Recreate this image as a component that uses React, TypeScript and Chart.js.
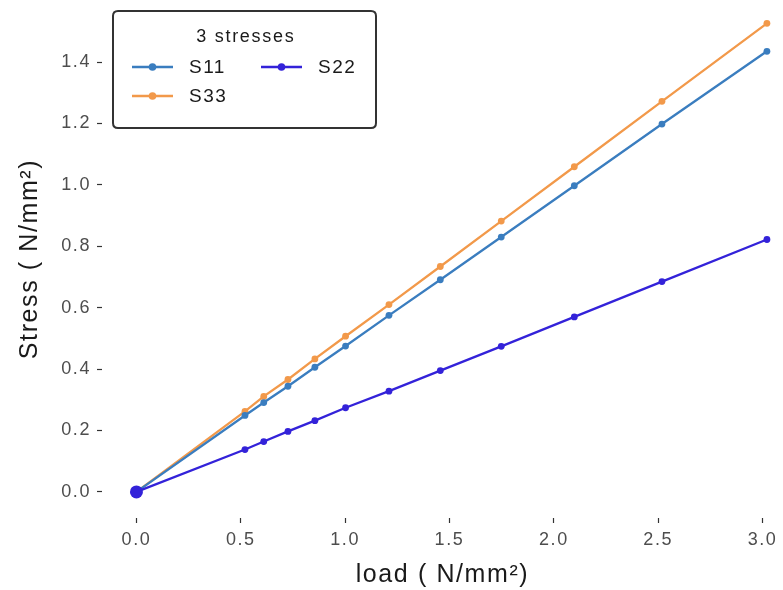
import React, { useEffect, useRef } from "react";
import { Chart, registerables } from "chart.js";

Chart.register(...registerables);

const loads = [0, 0.52, 0.61, 0.726, 0.855, 1.002, 1.21, 1.456, 1.748, 2.098, 2.518, 3.021];
const s11 = [0, 0.249, 0.291, 0.344, 0.406, 0.475, 0.575, 0.691, 0.83, 0.997, 1.198, 1.435];
const s22 = [0, 0.138, 0.164, 0.197, 0.232, 0.274, 0.328, 0.395, 0.474, 0.57, 0.685, 0.822];
const s33 = [0, 0.262, 0.311, 0.366, 0.433, 0.507, 0.61, 0.734, 0.882, 1.059, 1.272, 1.526];

const xTicks = [0, 0.5, 1.0, 1.5, 2.0, 2.5, 3.0];
const yTicks = [0, 0.2, 0.4, 0.6, 0.8, 1.0, 1.2, 1.4];

const seriesNames = ["S11", "S22", "S33"];
const seriesColors = ["#3A7DBF", "#3322D9", "#F2994A"];
const legendTitle = "3 stresses";

const FONT = "'Liberation Sans', Arial, sans-serif";

const toPoints = (ys: number[]) => loads.map((x, i) => ({ x, y: ys[i] }));

const spacingPlugin = {
  id: "spacing",
  beforeDraw(chart: any) {
    chart.ctx.letterSpacing = "1.6px";
  },
};

const legendPlugin = {
  id: "customLegend",
  afterDraw(chart: any) {
    const ctx = chart.ctx;
    ctx.save();
    const bx = 113, by = 11, bw = 263, bh = 117, r = 5;
    ctx.beginPath();
    ctx.moveTo(bx + r, by);
    ctx.lineTo(bx + bw - r, by);
    ctx.quadraticCurveTo(bx + bw, by, bx + bw, by + r);
    ctx.lineTo(bx + bw, by + bh - r);
    ctx.quadraticCurveTo(bx + bw, by + bh, bx + bw - r, by + bh);
    ctx.lineTo(bx + r, by + bh);
    ctx.quadraticCurveTo(bx, by + bh, bx, by + bh - r);
    ctx.lineTo(bx, by + r);
    ctx.quadraticCurveTo(bx, by, bx + r, by);
    ctx.closePath();
    ctx.fillStyle = "#ffffff";
    ctx.fill();
    ctx.lineWidth = 2;
    ctx.strokeStyle = "#333333";
    ctx.stroke();

    ctx.fillStyle = "#1a1a1a";
    ctx.letterSpacing = "1.7px";
    ctx.font = `18px ${FONT}`;
    ctx.textAlign = "left";
    ctx.textBaseline = "middle";
    const tw = ctx.measureText(legendTitle).width;
    ctx.fillText(legendTitle, 245 - (tw - 1.7) / 2, 37);

    const slots: Record<string, [number, number]> = {
      S11: [132, 67],
      S33: [132, 96],
      S22: [261, 67],
    };
    chart.data.datasets.forEach((ds: any) => {
      const slot = slots[ds.label];
      if (!slot) return;
      const [x0, y0] = slot;
      ctx.strokeStyle = ds.borderColor;
      ctx.lineWidth = 2.5;
      ctx.beginPath();
      ctx.moveTo(x0, y0);
      ctx.lineTo(x0 + 41, y0);
      ctx.stroke();
      ctx.fillStyle = ds.borderColor;
      ctx.beginPath();
      ctx.arc(x0 + 20.5, y0, 3.8, 0, Math.PI * 2);
      ctx.fill();
      ctx.fillStyle = "#1a1a1a";
      ctx.letterSpacing = "1.5px";
      ctx.font = `19px ${FONT}`;
      ctx.textAlign = "left";
      ctx.textBaseline = "middle";
      ctx.fillText(ds.label, x0 + 57, y0 + 1);
    });
    ctx.restore();
  },
};

export default function App() {
  const canvasRef = useRef<HTMLCanvasElement | null>(null);

  useEffect(() => {
    if (!canvasRef.current) return;
    const seriesData = [s11, s22, s33];
    const datasets = seriesNames.map((name, i) => ({
      label: name,
      data: toPoints(seriesData[i]),
      borderColor: seriesColors[i],
      backgroundColor: seriesColors[i],
      borderWidth: 2.3,
      pointRadius: seriesData[i].map((_, j) => (j === 0 && name === "S22" ? 6.5 : 3.4)),
      pointBorderWidth: 0,
      pointHoverRadius: 4,
      tension: 0,
      clip: false as any,
      order: name === "S22" ? 0 : 1,
    }));

    const chart = new Chart(canvasRef.current, {
      type: "line",
      data: { datasets },
      options: {
        responsive: false,
        animation: false,
        layout: { padding: 0, autoPadding: false },
        plugins: {
          legend: { display: false },
          tooltip: { enabled: false },
        },
        scales: {
          x: {
            type: "linear",
            min: -0.165,
            max: 3.098,
            afterBuildTicks: (scale: any) => {
              scale.ticks = xTicks.map((v) => ({ value: v }));
            },
            afterFit: (scale: any) => {
              scale.height = 72;
              scale.paddingLeft = 0;
              scale.paddingRight = 0;
            },
            ticks: {
              callback: (v: any) => Number(v).toFixed(1),
              color: "#4d4d4d",
              font: { family: FONT, size: 18 },
              padding: 6,
              maxRotation: 0,
            },
            grid: {
              drawOnChartArea: false,
              drawTicks: true,
              tickLength: 5,
              tickColor: "#333333",
              tickWidth: 1.2,
            },
            border: { display: false },
            title: {
              display: true,
              text: "load ( N/mm²)",
              color: "#1a1a1a",
              font: { family: FONT, size: 25 },
              padding: { top: 0, bottom: 0 },
            },
          },
          y: {
            type: "linear",
            min: -0.085,
            max: 1.602,
            afterBuildTicks: (scale: any) => {
              scale.ticks = yTicks.map((v) => ({ value: v }));
            },
            afterFit: (scale: any) => {
              scale.width = 102;
              scale.paddingTop = 0;
              scale.paddingBottom = 0;
            },
            ticks: {
              callback: (v: any) => Number(v).toFixed(1),
              color: "#4d4d4d",
              font: { family: FONT, size: 18 },
              padding: 6,
            },
            grid: {
              drawOnChartArea: false,
              drawTicks: true,
              tickLength: 5,
              tickColor: "#333333",
              tickWidth: 1.2,
            },
            border: { display: false },
            title: {
              display: true,
              text: "Stress ( N/mm²)",
              color: "#1a1a1a",
              font: { family: FONT, size: 25 },
              padding: { top: 15, bottom: 0 },
            },
          },
        },
      },
      plugins: [spacingPlugin, legendPlugin],
    });
    return () => chart.destroy();
  }, []);

  return (
    <div style={{ position: "fixed", left: 0, top: 0, width: 783, height: 590, background: "#fff" }}>
      <canvas ref={canvasRef} width={783} height={590} style={{ width: 783, height: 590, display: "block" }} />
    </div>
  );
}
